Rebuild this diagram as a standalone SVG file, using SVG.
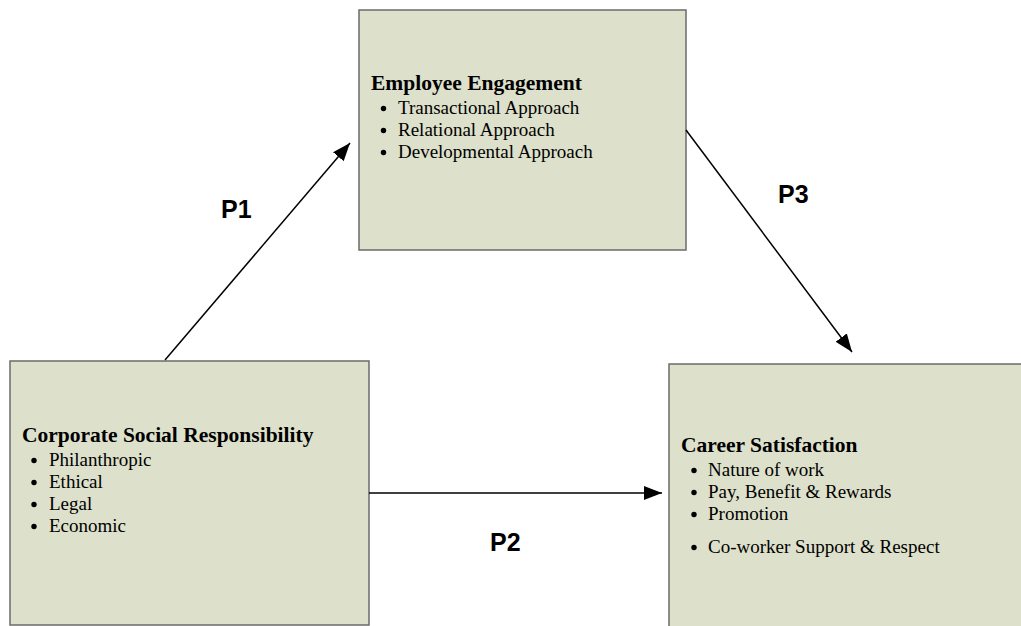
<svg xmlns="http://www.w3.org/2000/svg" width="1021" height="626" viewBox="0 0 1021 626">
  <style>
    .box { fill: #dde0cb; stroke: #6b6b6b; stroke-width: 1.5; }
    .head { font-family: "Liberation Serif", "Times New Roman", serif; font-weight: bold; font-size: 21.5px; fill: #000; }
    .item { font-family: "Liberation Serif", "Times New Roman", serif; font-size: 19px; fill: #000; }
    .dot { fill: #000; }
    .lab { font-family: "Liberation Sans", Arial, sans-serif; font-weight: bold; font-size: 25px; fill: #000; }
    .conn { stroke: #000; stroke-width: 1.5; fill: none; marker-end: url(#arrow); }
  </style>
  <defs>
    <marker id="arrow" markerUnits="userSpaceOnUse" markerWidth="19" markerHeight="15" refX="18" refY="7" orient="auto">
      <path d="M0,0 L18,7 L0,14 z" fill="#000"/>
    </marker>
  </defs>
  <rect width="1021" height="626" fill="#fff"/>

  <!-- Employee Engagement -->
  <g id="employee-engagement">
    <rect class="box" x="359" y="10" width="327" height="240"/>
    <text class="head" x="371" y="90">Employee Engagement</text>
    <circle class="dot" cx="383.5" cy="108.5" r="2.7"/>
    <text class="item" x="398" y="114">Transactional Approach</text>
    <circle class="dot" cx="383.5" cy="130.5" r="2.7"/>
    <text class="item" x="398" y="136">Relational Approach</text>
    <circle class="dot" cx="383.5" cy="152.5" r="2.7"/>
    <text class="item" x="398" y="158">Developmental Approach</text>
  </g>

  <!-- Corporate Social Responsibility -->
  <g id="csr">
    <rect class="box" x="10" y="361" width="359" height="264"/>
    <text class="head" x="22" y="442">Corporate Social Responsibility</text>
    <circle class="dot" cx="34" cy="460.5" r="2.7"/>
    <text class="item" x="49" y="466">Philanthropic</text>
    <circle class="dot" cx="34" cy="482.5" r="2.7"/>
    <text class="item" x="49" y="488">Ethical</text>
    <circle class="dot" cx="34" cy="504.5" r="2.7"/>
    <text class="item" x="49" y="510">Legal</text>
    <circle class="dot" cx="34" cy="526.5" r="2.7"/>
    <text class="item" x="49" y="532">Economic</text>
  </g>

  <!-- Career Satisfaction -->
  <g id="career-satisfaction">
    <rect class="box" x="669" y="364" width="360" height="270"/>
    <text class="head" x="681" y="452">Career Satisfaction</text>
    <circle class="dot" cx="694" cy="470.5" r="2.7"/>
    <text class="item" x="708" y="476">Nature of work</text>
    <circle class="dot" cx="694" cy="492.5" r="2.7"/>
    <text class="item" x="708" y="498">Pay, Benefit &amp; Rewards</text>
    <circle class="dot" cx="694" cy="514.5" r="2.7"/>
    <text class="item" x="708" y="520">Promotion</text>
    <circle class="dot" cx="694" cy="547.5" r="2.7"/>
    <text class="item" x="708" y="553">Co-worker Support &amp; Respect</text>
  </g>

  <!-- Connectors -->
  <g id="connectors">
    <line class="conn" x1="165" y1="360" x2="350" y2="143"/>
    <line class="conn" x1="369" y1="493" x2="662" y2="493"/>
    <line class="conn" x1="686" y1="130" x2="852" y2="352"/>
    <text class="lab" x="221" y="218">P1</text>
    <text class="lab" x="490" y="551">P2</text>
    <text class="lab" x="778" y="203">P3</text>
  </g>
</svg>
